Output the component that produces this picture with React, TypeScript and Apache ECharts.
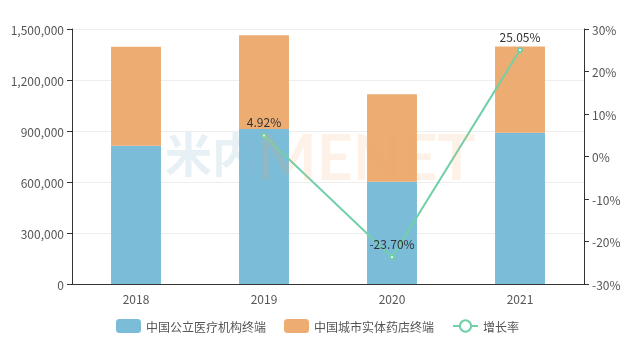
import React, { useEffect, useRef } from "react";
import * as echarts from "echarts";

const categories = ["2018", "2019", "2020", "2021"];
const publicMedical = [813500, 911800, 601800, 890000];
const retailPharmacy = [582400, 551100, 514100, 507000];
const growthRate: (number | null)[] = [null, 4.92, -23.7, 25.05];
const leftTicks = { min: 0, max: 1500000, interval: 300000 };
const rightTicks = { min: -30, max: 30, interval: 10 };

export default function App() {
  const ref = useRef<HTMLDivElement>(null);
  useEffect(() => {
    if (!ref.current) return;
    const chart = echarts.init(ref.current, undefined, { renderer: "svg" });
    const font = "'Noto Sans CJK SC', 'Noto Sans', sans-serif";
    chart.setOption({
      animation: false,
      textStyle: { fontFamily: font },
      graphic: [
        {
          type: "text",
          silent: true,
          z: 100,
          style: {
            x: 165,
            y: 131,
            text: "米内",
            fontSize: 47,
            lineHeight: 40,
            fontWeight: "bold",
            fontFamily: font,
            verticalAlign: "top",
            fill: "rgba(140,185,210,0.22)",
          },
        },
        {
          type: "text",
          silent: true,
          z: 100,
          style: {
            x: 257,
            y: 132,
            text: "MENET",
            fontSize: 63,
            lineHeight: 46,
            fontWeight: "bold",
            fontFamily: "Lato, sans-serif",
            verticalAlign: "top",
            fill: "rgba(245,165,100,0.15)",
          },
        },
      ],
      grid: { left: 72, right: 51, top: 29, bottom: 74 },
      legend: {
        bottom: 20,
        itemWidth: 25,
        itemHeight: 14,
        itemGap: 18,
        textStyle: { color: "#555", fontSize: 12, fontFamily: font },
        data: [
          { name: "中国公立医疗机构终端" },
          { name: "中国城市实体药店终端" },
          { name: "增长率" },
        ],
      },
      xAxis: {
        type: "category",
        data: categories,
        axisLine: { lineStyle: { color: "#333" } },
        axisTick: { lineStyle: { color: "#333" } },
        axisLabel: { color: "#555", fontSize: 12 },
      },
      yAxis: [
        {
          type: "value",
          min: leftTicks.min,
          max: leftTicks.max,
          interval: leftTicks.interval,
          axisLine: { show: true, lineStyle: { color: "#333" } },
          axisTick: { show: true, lineStyle: { color: "#333" } },
          axisLabel: {
            color: "#555",
            fontSize: 12,
            formatter: (v: number) => v.toLocaleString("en-US"),
          },
          splitLine: { lineStyle: { color: "#eee" } },
        },
        {
          type: "value",
          min: rightTicks.min,
          max: rightTicks.max,
          interval: rightTicks.interval,
          axisLine: { show: true, lineStyle: { color: "#333" } },
          axisTick: { show: true, lineStyle: { color: "#333" } },
          axisLabel: { color: "#555", fontSize: 12, formatter: "{value}%" },
          splitLine: { show: false },
        },
      ],
      series: [
        {
          name: "中国公立医疗机构终端",
          type: "bar",
          stack: "total",
          barWidth: "39%",
          data: publicMedical,
          itemStyle: { color: "#7bbcd9" },
        },
        {
          name: "中国城市实体药店终端",
          type: "bar",
          stack: "total",
          data: retailPharmacy,
          itemStyle: { color: "#edac72" },
        },
        {
          name: "增长率",
          type: "line",
          yAxisIndex: 1,
          data: growthRate,
          symbol: "emptyCircle",
          symbolSize: 4,
          lineStyle: { color: "#72d0a8", width: 2 },
          itemStyle: { color: "#72d0a8" },
          label: {
            show: true,
            position: "top",
            color: "#333",
            fontSize: 12,
            formatter: (p: any) => Number(p.value).toFixed(2) + "%",
          },
          z: 5,
        },
      ],
    });
    return () => chart.dispose();
  }, []);
  return (
    <div
      ref={ref}
      style={{ position: "fixed", left: 0, top: 0, width: 635, height: 358 }}
    />
  );
}
